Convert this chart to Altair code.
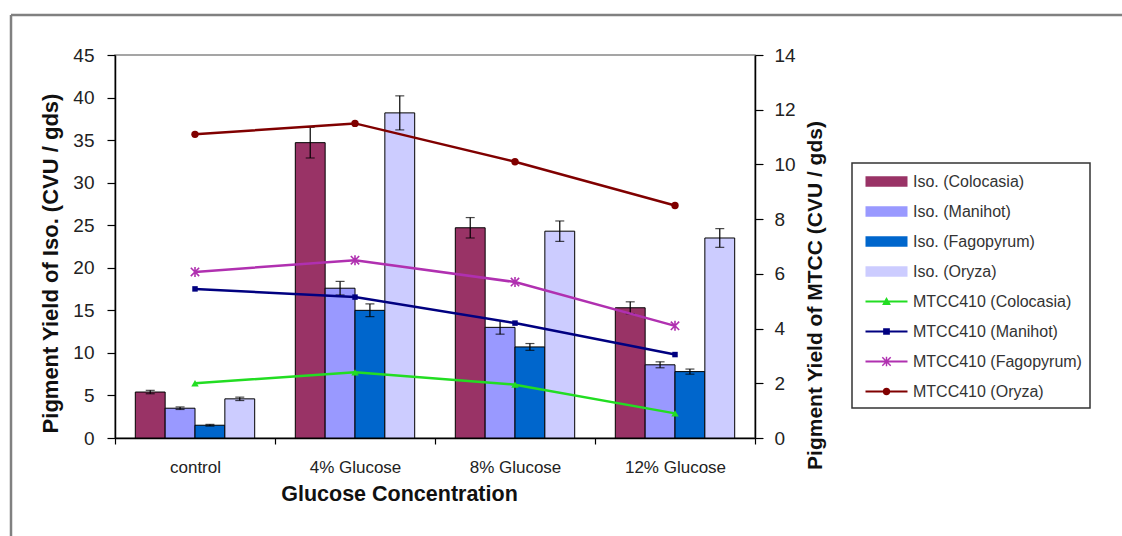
import altair as alt
import pandas as pd

# ---------------- data ----------------
categories = ["control", "4% Glucose", "8% Glucose", "12% Glucose"]
bar_series = ["Iso. (Colocasia)", "Iso. (Manihot)", "Iso. (Fagopyrum)", "Iso. (Oryza)"]
line_series = ["MTCC410 (Colocasia)", "MTCC410 (Manihot)", "MTCC410 (Fagopyrum)", "MTCC410 (Oryza)"]

iso_colocasia = [5.4, 34.7, 24.7, 15.3]
iso_colocasia_err = [0.2, 1.8, 1.2, 0.7]
iso_manihot = [3.5, 17.6, 13.0, 8.6]
iso_manihot_err = [0.15, 0.8, 0.8, 0.35]
iso_fagopyrum = [1.5, 15.0, 10.7, 7.8]
iso_fagopyrum_err = [0.1, 0.75, 0.4, 0.3]
iso_oryza = [4.6, 38.2, 24.3, 23.5]
iso_oryza_err = [0.2, 2.0, 1.2, 1.1]

mtcc_colocasia = [2.0, 2.4, 1.95, 0.9]
mtcc_manihot = [5.45, 5.15, 4.2, 3.05]
mtcc_fagopyrum = [6.07, 6.5, 5.7, 4.1]
mtcc_oryza = [11.1, 11.5, 10.1, 8.5]

left_ticks = [0, 5, 10, 15, 20, 25, 30, 35, 40, 45]
right_ticks = [0, 2, 4, 6, 8, 10, 12, 14]

bar_colors = ["#993366", "#9999FF", "#0066CC", "#CCCCFF"]
line_colors = ["#22DD22", "#000080", "#B030B0", "#800000"]

# ---------------- tables ----------------
bar_rows = []
for s, vals, errs in zip(bar_series,
                         [iso_colocasia, iso_manihot, iso_fagopyrum, iso_oryza],
                         [iso_colocasia_err, iso_manihot_err, iso_fagopyrum_err, iso_oryza_err]):
    for c, v, e in zip(categories, vals, errs):
        bar_rows.append({"cat": c, "series": s, "value": v, "lo": v - e, "hi": v + e})
bar_df = pd.DataFrame(bar_rows)

line_rows = []
for s, vals in zip(line_series, [mtcc_colocasia, mtcc_manihot, mtcc_fagopyrum, mtcc_oryza]):
    for c, v in zip(categories, vals):
        line_rows.append({"cat": c, "series": s, "value": v})
line_df = pd.DataFrame(line_rows)

all_series = bar_series + line_series
color_scale = alt.Scale(domain=all_series, range=bar_colors + line_colors)

# legend symbols (unit = sqrt(symbolSize)/2 px)
swatch = "M-2,-0.5H2V0.5H-2Z"
thin = "M-2,-0.1H2V0.1H-2Z"
tri = thin + "M0,-0.42L0.42,0.34H-0.42Z"
sq = thin + "M-0.32,-0.32H0.32V0.32H-0.32Z"
star = (thin + "M-0.07,-0.45H0.07V0.45H-0.07Z"
        + "M-0.35,-0.45L0.45,0.35L0.35,0.45L-0.45,-0.35Z"
        + "M-0.35,0.45L-0.45,0.35L0.35,-0.45L0.45,-0.35Z")
circ = thin + "M0.36,0A0.36,0.36 0 1,1 -0.36,0A0.36,0.36 0 1,1 0.36,0Z"
shape_scale = alt.Scale(domain=all_series, range=[swatch] * 4 + [tri, sq, star, circ])

FONT = "Liberation Sans"

legend = alt.Legend(
    title=None, orient="none", legendX=737, legendY=108,
    strokeColor="#333333", fillColor="white", padding=8,
    symbolSize=441, symbolOffset=16, symbolStrokeWidth=0, symbolOpacity=1, labelOffset=16,
    labelFont=FONT, labelFontSize=16, labelColor="#333333", labelLimit=400, rowPadding=11,
)

x_axis = alt.Axis(
    title="Glucose Concentration", labelAngle=0, tickBand="extent", tickExtra=True,
    domainColor="black", domainWidth=1.5, tickColor="black", tickSize=6, tickWidth=1.2,
    labelFont=FONT, labelFontSize=17, labelColor="#222222", labelPadding=15,
    titleFont=FONT, titleFontSize=21.5, titleFontWeight="bold", titleColor="#111111",
    titleX=284, titleY=45, titleAlign="center", titleBaseline="top",
)
x_enc = alt.X("cat:N", sort=categories, scale=alt.Scale(paddingInner=0, paddingOuter=0), axis=x_axis)
xoff = alt.XOffset("series:N", sort=bar_series,
                   scale=alt.Scale(domain=bar_series, paddingInner=0, paddingOuter=0.68))

left_axis = alt.Axis(
    title="Pigment Yield of Iso. (CVU / gds)", orient="left", values=left_ticks, grid=False,
    domainColor="black", domainWidth=1.5, tickColor="black", tickSize=8, tickWidth=1.2,
    labelFont=FONT, labelFontSize=19, labelColor="#222222", labelPadding=13,
    titleFont=FONT, titleFontSize=22, titleFontWeight="bold", titleColor="#111111",
    titleAngle=270, titleX=-65, titleY=208, titleAlign="center", titleBaseline="middle",
)
right_axis = alt.Axis(
    title="Pigment Yield of MTCC (CVU / gds)", orient="right", values=right_ticks, grid=False,
    domainColor="black", domainWidth=1.5, tickColor="black", tickSize=8, tickWidth=1.2,
    labelFont=FONT, labelFontSize=19, labelColor="#222222", labelPadding=11,
    titleFont=FONT, titleFontSize=21, titleFontWeight="bold", titleColor="#111111",
    titleAngle=270, titleX=60, titleY=240, titleAlign="center", titleBaseline="middle",
)
yl_scale = alt.Scale(domain=[0, 45], nice=False)
yr_scale = alt.Scale(domain=[0, 14], nice=False)

color_enc = alt.Color("series:N", scale=color_scale, legend=legend)

# ---------------- left (bars) ----------------
bars = alt.Chart(bar_df).mark_bar(stroke="black", strokeWidth=1).encode(
    x=x_enc, xOffset=xoff,
    y=alt.Y("value:Q", scale=yl_scale, axis=left_axis),
    color=color_enc,
)
err_rule = alt.Chart(bar_df).mark_rule(color="black", strokeWidth=1.2).encode(
    x=x_enc, xOffset=xoff,
    y=alt.Y("lo:Q", scale=yl_scale, axis=left_axis), y2="hi:Q",
)
err_lo = alt.Chart(bar_df).mark_tick(color="black", thickness=1.2, size=9).encode(
    x=x_enc, xOffset=xoff, y=alt.Y("lo:Q", scale=yl_scale, axis=left_axis),
)
err_hi = alt.Chart(bar_df).mark_tick(color="black", thickness=1.2, size=9).encode(
    x=x_enc, xOffset=xoff, y=alt.Y("hi:Q", scale=yl_scale, axis=left_axis),
)
left = alt.layer(bars, err_rule, err_lo, err_hi)

# ---------------- right (lines) ----------------
yr = alt.Y("value:Q", scale=yr_scale, axis=right_axis)
legend_src = alt.Chart(line_df).mark_point(filled=True, size=0).encode(
    x=x_enc, y=yr,
    color=color_enc,
    shape=alt.Shape("series:N", scale=shape_scale, legend=legend),
)
lines = alt.Chart(line_df).mark_line(strokeWidth=2.5).encode(
    x=x_enc, y=yr, color=color_enc,
)
marker_specs = [
    (line_series[0], "triangle-up", True, 55),
    (line_series[1], "square", True, 30),
    (line_series[2], "M-1,-1L1,1M-1,1L1,-1M0,-1.2L0,1.2", False, 70),
    (line_series[3], "circle", True, 55),
]
marker_layers = []
for name, shp, fil, sz in marker_specs:
    marker_layers.append(
        alt.Chart(line_df).transform_filter(alt.datum.series == name)
        .mark_point(shape=shp, filled=fil, size=sz, opacity=1, strokeWidth=1.6)
        .encode(x=x_enc, y=yr, color=color_enc)
    )
right = alt.layer(legend_src, lines, *marker_layers)

# ---------------- outer frame ----------------
frame_df = pd.DataFrame({"k": [0]})
frame_top = alt.Chart(frame_df).mark_rule(color="#808080", strokeWidth=2.5).encode(
    x=alt.value(-104), x2=alt.value(1010), y=alt.value(-40), y2=alt.value(-40))
frame_left = alt.Chart(frame_df).mark_rule(color="#808080", strokeWidth=2.5).encode(
    x=alt.value(-104), x2=alt.value(-104), y=alt.value(-40), y2=alt.value(485))

chart = alt.layer(left, right, frame_top, frame_left).resolve_scale(
    y="independent"
).properties(
    width=640, height=383,
    autosize=alt.AutoSizeParams(type="none"),
    padding={"left": 115, "top": 55, "right": 367, "bottom": 98},
    background="white",
).configure_view(stroke="#888888", strokeWidth=1.5).configure_legend(strokeWidth=1.5)

chart.save("out.html", embed_options={"renderer": "svg", "actions": False})
